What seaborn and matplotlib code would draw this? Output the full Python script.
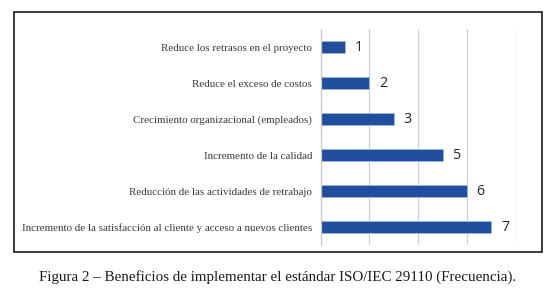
import matplotlib
matplotlib.use("Agg")
import matplotlib.pyplot as plt
import seaborn as sns
import pandas as pd
from matplotlib.patches import Rectangle

beneficios = [
    "Reduce los retrasos en el proyecto",
    "Reduce el exceso de costos",
    "Crecimiento organizacional (empleados)",
    "Incremento de la calidad",
    "Reducción de las actividades de retrabajo",
    "Incremento de la satisfacción al cliente y acceso a nuevos clientes",
]
frecuencia = [1, 2, 3, 5, 6, 7]

df = pd.DataFrame({"beneficio": beneficios, "frecuencia": frecuencia})

sns.set_style("white")

fig = plt.figure(figsize=(5.55, 2.91), dpi=100)
ax = fig.add_axes([0.5775, 0.158, 0.3517, 0.742])

sns.barplot(data=df, y="beneficio", x="frecuencia", orient="h",
            color="#1F4E9E", width=0.34, saturation=1,
            edgecolor="#9DB8E0", linewidth=0.6, ax=ax)

ax.set_xlim(0, 8)
ax.set_ylim(len(beneficios) - 0.5, -0.5)
ax.set_xticks([2, 4, 6, 8])
ax.set_xticklabels([])
ax.tick_params(axis="x", length=0)
ax.grid(axis="x", color="#D0D0D0", linewidth=0.9)
ax.set_axisbelow(True)
for s in ["top", "right", "bottom"]:
    ax.spines[s].set_visible(False)
ax.spines["left"].set_color("#C8C8C8")
ax.spines["left"].set_linewidth(0.9)

# category boundary ticks
ax.set_yticks([i + 0.5 for i in range(-1, len(beneficios))], minor=True)
ax.tick_params(axis="y", which="minor", length=3, color="#C8C8C8", width=0.9)
ax.tick_params(axis="y", which="major", length=0, pad=6)
ax.set_yticklabels(beneficios, fontfamily="Liberation Serif", fontsize=7.9,
                   color="#3A3A3A")
ax.set_xlabel("")
ax.set_ylabel("")

for c in ax.containers:
    ax.bar_label(c, labels=[str(v) for v in frecuencia], padding=7,
                 fontfamily="Open Sans", fontsize=10.3, color="#262626")

fig.add_artist(Rectangle((14 / 555, 1 - 252 / 291), 528 / 555, 240 / 291,
                         transform=fig.transFigure, fill=False,
                         edgecolor="#1A1A1A", linewidth=1.2))

fig.text(0.5, 1 - 277 / 291,
         "Figura 2 – Beneficios de implementar el estándar ISO/IEC 29110 (Frecuencia).",
         ha="center", va="center", fontfamily="Liberation Serif", fontsize=10.85,
         color="#1A1A1A")

fig.savefig("out.png", dpi=100)
